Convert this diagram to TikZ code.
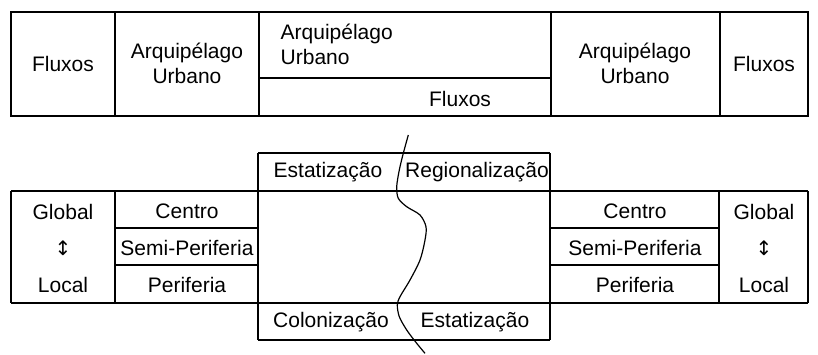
\documentclass[tikz,border=0pt]{standalone}
\usepackage{fontspec}
\setmainfont{Liberation Sans}
\newfontfamily\arrowfont{DejaVu Sans}
\usetikzlibrary{calc}

\begin{document}
\begin{tikzpicture}[x=0.5pt, y=-0.5pt, line width=0.7pt, every node/.style={font=\fontsize{10.5}{12.5}\selectfont, inner sep=0pt, align=center}]
		\useasboundingbox (0,0) rectangle (818,354);

		% Top table
		\draw (11,12) rectangle (808,116);
		\foreach \x in {115,259,551,720}{\draw (\x,12) -- (\x,116);}
		\draw (259,78) -- (551,78);

		\node (fluxosA) at (63,64) {Fluxos};
		\node (arqA) at (187,63) {Arquipélago\\Urbano};
		\node[anchor=west, align=left] (arqB) at (280,44.5) {Arquipélago\\Urbano};
		\node (fluxosB) at (460,99) {Fluxos};
		\node (arqC) at (635,63) {Arquipélago\\Urbano};
		\node (fluxosC) at (764,64) {Fluxos};

		% Bottom table
		\draw (11,191) -- (808,191);
		\draw (11,303) -- (808,303);
		\draw (258,153) -- (550,153);
		\draw (258,340) -- (550,340);
		\foreach \x in {11,115,719,808}{\draw (\x,191) -- (\x,303);}
		\foreach \x in {258,550}{\draw (\x,153) -- (\x,340);}
		\foreach \y in {228,265}{\draw (115,\y) -- (258,\y); \draw (550,\y) -- (719,\y);}

		\node (estA) at (328,172) {Estatização};
		\node (regio) at (477,172) {Regionalização};
		\node (colon) at (331,322) {Colonização};
		\node (estB) at (475,322) {Estatização};

		\foreach \s/\xa/\xb in {L/63/187, R/764/635}{
			\node (global\s) at (\xa,212) {Global};
			\node[font=\arrowfont\fontsize{10}{12}\selectfont] (arrow\s) at (\xa,248) {↕};
			\node (local\s) at (\xa,285) {Local};
			\node (centro\s) at (\xb,211) {Centro};
			\node (semi\s) at (\xb,248) {Semi-Periferia};
			\node (perif\s) at (\xb,285) {Periferia};
		}

		% dividing curve
		\draw[line width=0.6pt] plot[smooth, tension=0.5] coordinates {(408.3,135) (403.3,153.3) (399.3,170) (396.7,186.7) (398.3,198.3) (406.7,206.7) (420,215) (426,226.7) (425,240) (420,260) (410,280) (400,296.7) (397.3,305) (399.3,316.7) (406.7,330) (416.7,343.3) (425,353.3)};
	\end{tikzpicture}
\end{document}
